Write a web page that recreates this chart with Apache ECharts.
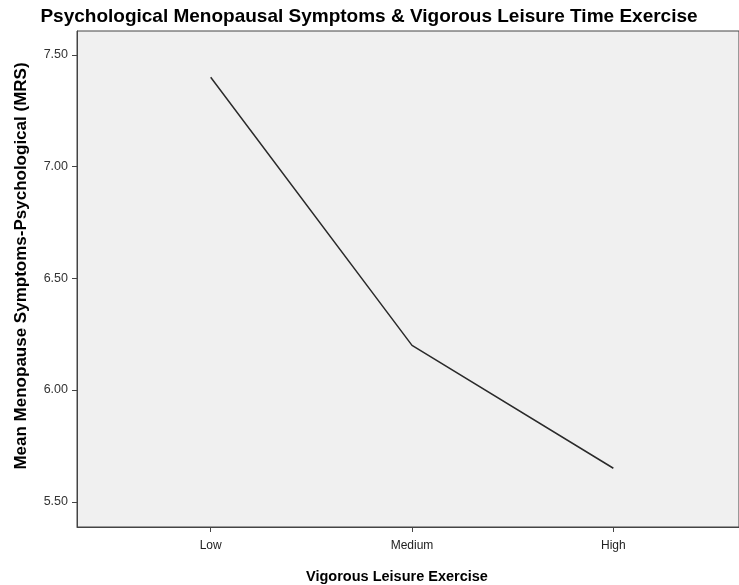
<!DOCTYPE html>
<html>
<head>
<meta charset="utf-8">
<script src="https://cdn.jsdelivr.net/npm/echarts@6/dist/echarts.min.js"></script>
<style>
  html, body { margin: 0; padding: 0; background: #fff; }
  #main { width: 739px; height: 585px; }
</style>
</head>
<body>
<div id="main"></div>
<script>
// exercise levels on the x axis
var categories = ["Low", "Medium", "High"];
// mean MRS psychological score per level
var meanScores = [7.40, 6.20, 5.65];
// y tick values
var yTicks = [5.5, 6.0, 6.5, 7.0, 7.5];

var chart = echarts.init(document.getElementById("main"));

var option = {
  animation: false,
  backgroundColor: "#ffffff",
  title: [
    {
      text: "Psychological Menopausal Symptoms & Vigorous Leisure Time Exercise",
      left: 364,
      top: 2,
      textAlign: "center",
      textStyle: {
        fontFamily: "Liberation Sans",
        fontWeight: "bold",
        fontSize: 19,
        color: "#000"
      }
    },
    {
      text: "Vigorous Leisure Exercise",
      left: 392,
      top: 564,
      textAlign: "center",
      textStyle: {
        fontFamily: "Liberation Sans",
        fontWeight: "bold",
        fontSize: 14.5,
        color: "#000"
      }
    }
  ],
  grid: {
    left: 77,
    right: 0,
    top: 31,
    bottom: 58,
    show: true,
    backgroundColor: "#f0f0f0",
    borderColor: "#444",
    borderWidth: 1
  },
  xAxis: {
    type: "value",
    min: -0.664,
    max: 2.624,
    splitLine: { show: false },
    axisLine: { show: true, onZero: false, lineStyle: { color: "#444" } },
    axisTick: {
      show: true,
      length: 5,
      lineStyle: { color: "#444" },
      customValues: [0, 1, 2]
    },
    axisLabel: {
      customValues: [0, 1, 2],
      formatter: function (v) { return categories[Math.round(v)]; },
      fontFamily: "Liberation Sans",
      fontSize: 12,
      color: "#222",
      margin: 13
    }
  },
  yAxis: {
    type: "value",
    min: 5.387,
    max: 7.607,
    name: "Mean Menopause Symptoms-Psychological (MRS)",
    nameLocation: "middle",
    nameGap: 47,
    nameTextStyle: {
      fontFamily: "Liberation Sans",
      fontWeight: "bold",
      fontSize: 17,
      color: "#000",
      padding: [0, 0, 0, 26]
    },
    splitLine: { show: false },
    axisLine: { show: true, onZero: false, lineStyle: { color: "#444" } },
    axisTick: {
      show: true,
      length: 5,
      lineStyle: { color: "#444" },
      customValues: yTicks
    },
    axisLabel: {
      customValues: yTicks,
      formatter: function (v) { return v.toFixed(2); },
      fontFamily: "Liberation Sans",
      fontSize: 12.5,
      color: "#333",
      margin: 9
    }
  },
  series: [
    {
      type: "line",
      data: meanScores.map(function (v, i) { return [i, v]; }),
      symbol: "none",
      lineStyle: { color: "#2a2a2a", width: 1.5 }
    }
  ]
};

chart.setOption(option);
</script>
</body>
</html>
